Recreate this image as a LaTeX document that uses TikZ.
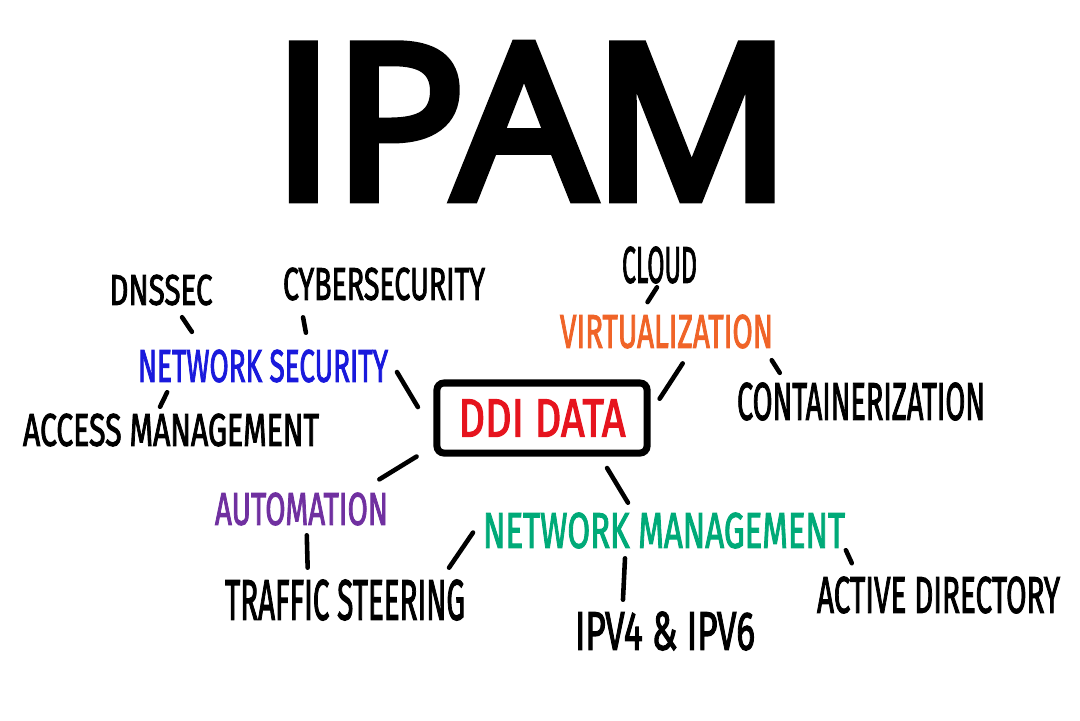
\documentclass[tikz,border=0pt]{standalone}
\usepackage{fontspec}
\usepackage{graphicx}
\setmainfont{Fira Sans}
\newfontfamily\lblfont[FakeBold=2.5]{Fira Sans}
\newfontfamily\titlefont[FakeBold=5]{Open Sans}
\newdimen\pxu \pxu=0.01cm
\newcommand\hw[3]{\resizebox{#1\pxu}{#2\pxu}{\lblfont #3}}
\definecolor{nsblue}{RGB}{25,25,220}
\definecolor{vorange}{RGB}{240,100,40}
\definecolor{apurple}{RGB}{112,48,160}
\definecolor{nmgreen}{RGB}{0,170,120}
\definecolor{ddired}{RGB}{230,20,30}
\tikzset{
  lbl/.style={inner sep=0pt, outer sep=0pt},
  conn/.style={line width=1.3pt, line cap=round, black},
  ddibox/.style={draw, line width=2pt, rounded corners=2pt, minimum width=2.1cm, minimum height=0.7cm, inner sep=0pt, outer sep=0pt}
}
\begin{document}
\begin{tikzpicture}[x=0.01cm,y=-0.01cm]
\useasboundingbox[fill=white] (0,0) rectangle (1080,720);
% title
\node[lbl] (title) at (531.5,121.5) {\resizebox{517\pxu}{153\pxu}{\titlefont IPAM}};
% labels
\node[lbl] (dnssec) at (161,290) {\hw{103}{30}{DNSSEC}};
\node[lbl] (cyber) at (384,284) {\hw{202}{32}{CYBERSECURITY}};
\node[lbl, text=nsblue] (netsec) at (263,366) {\hw{250}{32}{NETWORK SECURITY}};
\node[lbl] (access) at (171,430) {\hw{296}{32}{ACCESS MANAGEMENT}};
\node[ddibox, text=ddired] (ddi) at (542,418) {\hw{167}{37}{DDI DATA}};
\node[lbl] (cloud) at (659.5,265) {\hw{75}{36}{CLOUD}};
\node[lbl, text=vorange] (virt) at (666.5,331.5) {\hw{213}{33}{VIRTUALIZATION}};
\node[lbl] (cont) at (861,401.5) {\hw{248}{37}{CONTAINERIZATION}};
\node[lbl, text=apurple] (auto) at (301.5,509) {\hw{173}{32}{AUTOMATION}};
\node[lbl, text=nmgreen] (netmgmt) at (664,530.5) {\hw{362}{35}{NETWORK MANAGEMENT}};
\node[lbl] (traffic) at (345,600) {\hw{240}{40}{TRAFFIC STEERING}};
\node[lbl] (ipv) at (665,631) {\hw{180}{38}{IPV4 \& IPV6}};
\node[lbl] (ad) at (938.5,595) {\hw{243}{36}{ACTIVE DIRECTORY}};
% connectors
\draw[conn, shorten <=.144cm, shorten >=.216cm] ([xshift=.13cm]dnssec.south) -- ([xshift=-.59cm]netsec.north);
\draw[conn, shorten <=.173cm, shorten >=.173cm] ([xshift=-.84cm]cyber.south) -- ([xshift=.46cm]netsec.north);
\draw[conn, shorten <=.11cm, shorten >=.077cm] ([xshift=-.91cm]netsec.south) -- ([xshift=-.143cm]access.north);
\draw[conn, shorten <=.175cm, shorten >=.372cm] ([yshift=.09cm]netsec.east) -- ([yshift=-.21cm]ddi.west);
\draw[conn, shorten <=.239cm, shorten >=.256cm] ([yshift=-.26cm]ddi.west) -- ([xshift=.56cm]auto.north);
\draw[conn, shorten <=.10cm, shorten >=.12cm] ([xshift=.05cm]auto.south) -- ([xshift=-.37cm]traffic.north);
\draw[conn, shorten <=.177cm, shorten >=.145cm] ([yshift=.126cm]netmgmt.west) -- ([xshift=.958cm]traffic.north);
\draw[conn, shorten <=.175cm, shorten >=.117cm] ([xshift=.56cm]ddi.south) -- ([xshift=-.30cm]netmgmt.north);
\draw[conn, shorten <=.10cm, shorten >=.12cm] ([xshift=-.385cm]netmgmt.south) -- ([xshift=-.426cm]ipv.north);
\draw[conn, shorten <=.02cm, shorten >=.149cm] (netmgmt.south east) -- ([xshift=.41cm]ad.north west);
\draw[conn, shorten <=.23cm, shorten >=.18cm] (ddi.east) -- ([xshift=.26cm]virt.south);
\draw[conn, shorten <=.047cm, shorten >=.15cm] (cloud.south) -- ([xshift=-.27cm]virt.north);
\draw[conn, shorten <=.141cm, shorten >=.117cm] ([xshift=.976cm]virt.south) -- ([xshift=.49cm]cont.north west);
\end{tikzpicture}
\end{document}
